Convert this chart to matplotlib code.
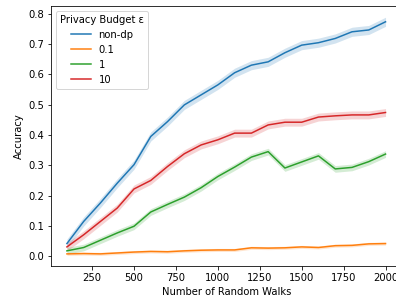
import matplotlib
matplotlib.use('Agg')
import matplotlib.pyplot as plt
import numpy as np

walks = [100, 200, 300, 400, 500, 600, 700, 800, 900, 1000,
         1100, 1200, 1300, 1400, 1500, 1600, 1700, 1800, 1900, 2000]

budgets = ['non-dp', '0.1', '1', '10']

acc_nondp = [0.042, 0.115, 0.176, 0.241, 0.302, 0.395, 0.444, 0.499, 0.532, 0.565,
             0.605, 0.630, 0.641, 0.671, 0.696, 0.704, 0.718, 0.740, 0.746, 0.773]
acc_01 = [0.008, 0.009, 0.008, 0.011, 0.014, 0.016, 0.015, 0.018, 0.020, 0.021,
          0.021, 0.028, 0.027, 0.028, 0.031, 0.029, 0.035, 0.036, 0.041, 0.042]
acc_1 = [0.018, 0.029, 0.053, 0.077, 0.099, 0.146, 0.171, 0.195, 0.226, 0.263,
         0.294, 0.327, 0.345, 0.291, 0.311, 0.331, 0.288, 0.293, 0.312, 0.337]
acc_10 = [0.031, 0.071, 0.115, 0.159, 0.222, 0.250, 0.296, 0.338, 0.367, 0.384,
          0.406, 0.406, 0.433, 0.442, 0.442, 0.459, 0.463, 0.466, 0.466, 0.474]

# half-width of the confidence band for each series
spread = [0.015, 0.005, 0.011, 0.013]

series = [acc_nondp, acc_01, acc_1, acc_10]
colors = ['#1f77b4', '#ff7f0e', '#2ca02c', '#d62728']

# 72 dpi so that 10pt text is 10px, like the reference
fig = plt.figure(figsize=(396 / 72, 300 / 72), dpi=72)
ax = fig.add_axes([0.1288, 0.1133, 0.885, 0.8677])

x = np.array(walks)
for name, vals, err, c in zip(budgets, series, spread, colors):
    y = np.array(vals)
    ax.plot(x, y, color=c, lw=1.5, label=name)
    ax.fill_between(x, y - err, y + err, color=c, alpha=0.2, lw=0)

ax.set_xlim(5, 2095)
ax.set_ylim(-0.032, 0.826)
ax.set_xticks([250, 500, 750, 1000, 1250, 1500, 1750, 2000])
ax.set_yticks(np.arange(0, 0.81, 0.1))
ax.set_xlabel('Number of Random Walks')
ax.set_ylabel('Accuracy')
ax.legend(title='Privacy Budget ε', loc='upper left')

fig.savefig('out.png', dpi=72)
plt.close(fig)
